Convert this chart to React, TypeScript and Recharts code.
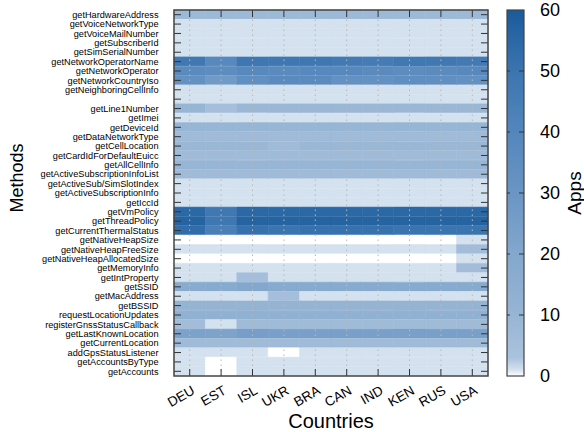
import React from "react";
import { BarChart, Bar, XAxis, YAxis, Cell, ReferenceLine } from "recharts";

// categories
const countries = ["DEU", "EST", "ISL", "UKR", "BRA", "CAN", "IND", "KEN", "RUS", "USA"];
const methods = [
  "getHardwareAddress", "getVoiceNetworkType", "getVoiceMailNumber", "getSubscriberId",
  "getSimSerialNumber", "getNetworkOperatorName", "getNetworkOperator", "getNetworkCountryIso",
  "getNeighboringCellInfo", "", "getLine1Number", "getImei", "getDeviceId", "getDataNetworkType",
  "getCellLocation", "getCardIdForDefaultEuicc", "getAllCellInfo", "getActiveSubscriptionInfoList",
  "getActiveSub/SimSlotIndex", "getActiveSubscriptionInfo", "getIccId", "getVmPolicy",
  "getThreadPolicy", "getCurrentThermalStatus", "getNativeHeapSize", "getNativeHeapFreeSize",
  "getNativeHeapAllocatedSize", "getMemoryInfo", "getIntProperty", "getSSID", "getMacAddress",
  "getBSSID", "requestLocationUpdates", "registerGnssStatusCallback", "getLastKnownLocation",
  "getCurrentLocation", "addGpsStatusListener", "getAccountsByType", "getAccounts",
];

// apps per method, one list per country (same order as methods)
const DEU = [8, 1, 1, 1, 1, 48, 37, 33, 1, 1, 10, 1, 10, 7, 9, 7, 10, 7, 1, 1, 1, 55, 57, 53, 0, 1, 0, 1, 1, 17, 1, 11, 13, 6, 23, 7, 1, 1, 1];
const EST = [8, 1, 1, 1, 1, 38, 36, 27, 1, 1, 5, 1, 10, 7, 9, 7, 10, 7, 1, 1, 1, 48, 49, 44, 0, 1, 0, 1, 1, 18, 1, 11, 13, 1, 22, 7, 1, 0, 0];
const ISL = [8, 1, 1, 1, 1, 49, 38, 34, 1, 1, 9, 1, 10, 7, 9, 7, 10, 7, 1, 1, 1, 55, 57, 51, 0, 1, 0, 1, 5, 20, 1, 11, 13, 7, 25, 7, 1, 1, 1];
const UKR = [8, 1, 1, 1, 1, 49, 37, 37, 1, 1, 9, 1, 10, 7, 7, 7, 10, 7, 1, 1, 1, 55, 57, 50, 0, 1, 0, 1, 1, 18, 5, 11, 13, 7, 24, 7, 0, 1, 1];
const BRA = [8, 1, 1, 1, 1, 49, 38, 37, 1, 1, 9, 1, 10, 7, 9, 7, 10, 7, 1, 1, 1, 55, 57, 51, 0, 1, 0, 1, 1, 18, 1, 11, 13, 7, 24, 7, 1, 1, 1];
const CAN = [8, 1, 1, 1, 1, 47, 38, 33, 1, 1, 9, 1, 10, 7, 9, 7, 10, 7, 1, 1, 1, 55, 57, 51, 0, 1, 0, 1, 1, 18, 1, 11, 13, 7, 24, 7, 1, 1, 1];
const IND = [8, 1, 1, 1, 1, 46, 37, 33, 1, 1, 9, 1, 10, 7, 9, 7, 10, 7, 1, 1, 1, 55, 57, 51, 0, 1, 0, 1, 1, 18, 1, 11, 13, 7, 24, 7, 1, 1, 1];
const KEN = [8, 1, 1, 1, 1, 48, 36, 35, 1, 1, 9, 1, 10, 7, 9, 7, 10, 7, 1, 1, 1, 55, 57, 50, 0, 1, 0, 1, 1, 18, 1, 11, 13, 7, 24, 7, 1, 1, 1];
const RUS = [8, 1, 1, 1, 1, 48, 37, 34, 1, 1, 9, 1, 10, 7, 9, 7, 10, 7, 1, 1, 1, 55, 57, 50, 0, 1, 0, 1, 1, 18, 1, 11, 13, 7, 24, 7, 1, 1, 1];
const USA = [8, 1, 1, 1, 1, 47, 38, 33, 1, 1, 9, 1, 10, 7, 9, 7, 10, 7, 1, 1, 1, 55, 57, 50, 1, 6, 1, 6, 1, 18, 1, 11, 13, 7, 24, 7, 1, 1, 1];
const appsByCountry = [DEU, EST, ISL, UKR, BRA, CAN, IND, KEN, RUS, USA];

const colorbarTicks = [0, 10, 20, 30, 40, 50, 60];

// layout
const W = 584;
const H = 432;
const PL = 174; // plot left
const PT = 10; // plot top
const PR = 488; // plot right
const PB = 376; // plot bottom
const VMAX = 60;

// colour map (white -> blue)
const STOPS: [number, number[]][] = [
  [0, [255, 255, 255]],
  [1, [212, 225, 238]],
  [3, [170, 194, 221]],
  [10, [151, 181, 213]],
  [20, [131, 167, 205]],
  [30, [106, 149, 196]],
  [40, [84, 134, 188]],
  [50, [59, 117, 176]],
  [60, [27, 91, 155]],
];

function colorFor(v: number) {
  for (let i = 1; i < STOPS.length; i++) {
    const [v1, c1] = STOPS[i];
    const [v0, c0] = STOPS[i - 1];
    if (v <= v1) {
      const t = (v - v0) / (v1 - v0);
      const c = c0.map((x, k) => Math.round(x + (c1[k] - x) * t));
      return `rgb(${c[0]},${c[1]},${c[2]})`;
    }
  }
  const c = STOPS[STOPS.length - 1][1];
  return `rgb(${c[0]},${c[1]},${c[2]})`;
}

const rows = methods.map((m) => {
  const r: Record<string, string | number> = { method: m };
  countries.forEach((c) => (r[c] = 1));
  return r;
});

const TICK = "#333";

function MethodTick(props: any) {
  const { y, payload } = props;
  return (
    <g>
      <line x1={PL} x2={PL + 7} y1={y} y2={y} stroke={TICK} />
      <line x1={PR - 7} x2={PR} y1={y} y2={y} stroke={TICK} />
      <text x={PL - 15.5} y={y} dy={3.2} textAnchor="end" fontSize={9.2} fill="#000">
        {payload.value}
      </text>
    </g>
  );
}

function CountryTick(props: any) {
  const { x, payload } = props;
  const label = countries[Math.floor(payload.value)];
  const tx = x + 6;
  const ty = 393;
  return (
    <g>
      <line x1={x} x2={x} y1={PB} y2={PB - 7} stroke={TICK} />
      <line x1={x} x2={x} y1={PT} y2={PT + 7} stroke={TICK} />
      <text
        x={tx}
        y={ty}
        textAnchor="end"
        fontSize={13.5}
        fill="#000"
        transform={`rotate(-30, ${tx}, ${ty})`}
      >
        {label}
      </text>
    </g>
  );
}

export default function App() {
  const cbL = 507;
  const cbR = 524;
  const cbY = (v: number) => PB - (v / VMAX) * (PB - PT);
  return (
    <div
      style={{
        position: "absolute",
        left: 0,
        top: 0,
        width: W,
        height: H,
        background: "#fff",
        fontFamily: '"Liberation Sans", Arial, sans-serif',
      }}
    >
      <BarChart
        width={W}
        height={H}
        data={rows}
        layout="vertical"
        barCategoryGap={0}
        barGap={0}
        margin={{ top: PT, right: W - PR, bottom: 0, left: 0 }}
      >
        {countries.map((c, ci) => (
          <Bar key={c} dataKey={c} stackId="s" isAnimationActive={false}>
            {rows.map((_, ri) => {
              const fill = colorFor(appsByCountry[ci][ri]);
              return <Cell key={ri} fill={fill} stroke={fill} strokeWidth={0.6} />;
            })}
          </Bar>
        ))}
        {countries.map((c, ci) => (
          <ReferenceLine
            key={"g" + c}
            x={ci + 0.5}
            stroke="#b8b8b8"
            strokeDasharray="1.5 3.5"
            strokeWidth={1}
          />
        ))}
        <XAxis
          type="number"
          domain={[0, countries.length]}
          ticks={countries.map((_, i) => i + 0.5)}
          tick={<CountryTick />}
          axisLine={false}
          tickLine={false}
          height={H - PB}
          interval={0}
        />
        <YAxis
          type="category"
          dataKey="method"
          width={PL}
          tick={<MethodTick />}
          axisLine={false}
          tickLine={false}
          interval={0}
        />
      </BarChart>
      <svg
        width={W}
        height={H}
        style={{ position: "absolute", left: 0, top: 0, pointerEvents: "none" }}
      >
        <defs>
          <linearGradient id="cbar" x1="0" y1="1" x2="0" y2="0">
            {STOPS.map(([v, c]) => (
              <stop key={v} offset={v / VMAX} stopColor={`rgb(${c[0]},${c[1]},${c[2]})`} />
            ))}
          </linearGradient>
        </defs>
        <rect x={PL} y={PT} width={PR - PL} height={PB - PT} fill="none" stroke="#444" strokeWidth={1.5} />
        <text
          x={17}
          y={178}
          fontSize={18}
          textAnchor="middle"
          dominantBaseline="central"
          transform="rotate(-90, 17, 178)"
        >
          Methods
        </text>
        <text x={331} y={428} fontSize={20} textAnchor="middle">
          Countries
        </text>
        <rect x={cbL} y={PT} width={cbR - cbL} height={PB - PT} fill="url(#cbar)" stroke="#444" strokeWidth={1.2} />
        {colorbarTicks.map((t) => (
          <g key={t}>
            {t > 0 && t < VMAX && (
              <>
                <line x1={cbL} x2={cbL + 3} y1={cbY(t)} y2={cbY(t)} stroke={TICK} />
                <line x1={cbR - 5} x2={cbR} y1={cbY(t)} y2={cbY(t)} stroke={TICK} />
              </>
            )}
            <text x={540} y={cbY(t)} fontSize={18} dominantBaseline="central">
              {t}
            </text>
          </g>
        ))}
        <text
          x={574}
          y={193}
          fontSize={19}
          textAnchor="middle"
          dominantBaseline="central"
          transform="rotate(-90, 574, 193)"
        >
          Apps
        </text>
      </svg>
    </div>
  );
}
